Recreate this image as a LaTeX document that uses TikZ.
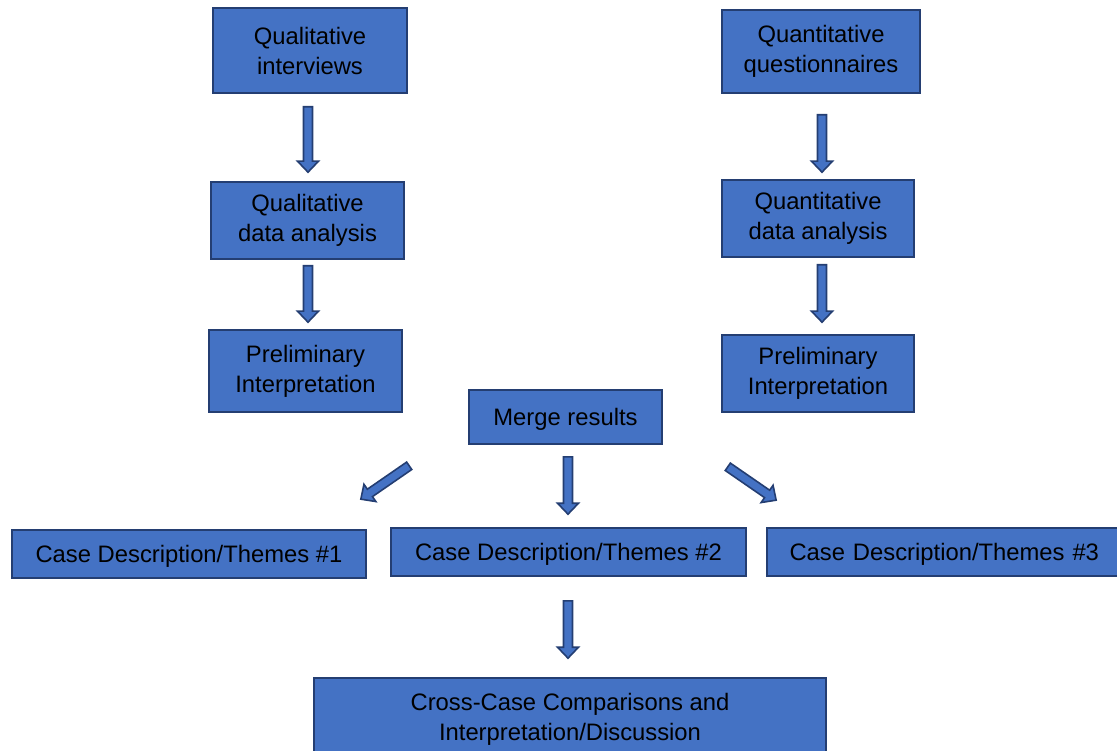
\documentclass[tikz,border=0pt]{standalone}
\usepackage{fontspec}
\setmainfont{Liberation Sans}
\usetikzlibrary{calc}
\definecolor{boxfill}{RGB}{68,114,196}
\definecolor{boxedge}{RGB}{36,62,114}

\tikzset{
  box/.style={draw=boxedge, fill=boxfill, line width=1.6pt, align=center,
    inner sep=0pt, text=black, font=\fontsize{23.8}{30}\selectfont},
  oneline/.style={text depth=0pt},
}

% block arrow from tail coordinate #1 to tip coordinate #2
\newcommand\blockarrow[2]{%
  \path let \p1=(#1), \p2=(#2),
    \n1={atan2(\y2-\y1,\x2-\x1)}, \n2={veclen(\x2-\x1,\y2-\y1)} in
    \pgfextra{\xdef\baang{\n1}\xdef\balen{\n2}};
  \begin{scope}[shift={(#1)}, rotate=\baang, x=1pt, y=1pt]
    \draw[draw=boxedge, fill=boxfill, line width=1.6pt, line join=miter]
      (0,-4.5) -- ({\balen-11},-4.5) -- ({\balen-11},-10.5) -- (\balen,0)
      -- ({\balen-11},10.5) -- ({\balen-11},4.5) -- (0,4.5) -- cycle;
  \end{scope}}

\begin{document}
\begin{tikzpicture}[x=1pt, y=-1pt]
  \useasboundingbox (0,0) rectangle (1117,751);
  \clip (0,0) rectangle (1117,751);

  % qualitative strand
  \node[box, minimum width=194pt, minimum height=85pt] (qi) at (310,50.5) {Qualitative\\interviews};
  \node[box, minimum width=193pt, minimum height=77pt] (qda) at (307.5,220.5) {Qualitative\\data analysis};
  \node[box, minimum width=193pt, minimum height=82pt] (pl) at (305.5,371) {Preliminary\\Interpretation};

  % quantitative strand
  \node[box, minimum width=198pt, minimum height=83pt] (qn) at (821,51.5) {Quantitative\\questionnaires};
  \node[box, minimum width=192pt, minimum height=77pt] (nda) at (818,218.5) {Quantitative\\data analysis};
  \node[box, minimum width=192pt, minimum height=77pt] (pr) at (818,373.5) {Preliminary\\Interpretation};

  % merging and cases
  \node[box, oneline, minimum width=193pt, minimum height=54pt] (mr) at (565.5,417) {Merge results};
  \node[box, oneline, minimum width=354pt, minimum height=48pt] (c1) at (189,554) {Case Description/Themes \#1};
  \node[box, oneline, minimum width=355pt, minimum height=48pt] (c2) at (568.5,552) {Case Description/Themes \#2};
  \node[box, oneline, minimum width=363pt, minimum height=48pt, text width=350pt, align=left] (c3) at (948.5,552) {\hspace*{16pt}Case Description/Themes \#3};
  \node[box, minimum width=512pt, minimum height=82pt] (cc) at (570,719) {Cross-Case Comparisons and\\Interpretation/Discussion};

  % arrow end points
  \coordinate (t1) at ($(qi.south)+(-2,13)$);   \coordinate (h1) at ($(qda.north)+(0.5,-9)$);
  \coordinate (t2) at ($(qda.south)+(0.5,6)$);  \coordinate (h2) at ($(pl.north)+(2.5,-7)$);
  \coordinate (t3) at ($(qn.south)+(1,21)$);    \coordinate (h3) at ($(nda.north)+(4,-7)$);
  \coordinate (t4) at ($(nda.south)+(4,7)$);    \coordinate (h4) at ($(pr.north)+(4,-12)$);
  \coordinate (t5) at ($(mr.south)+(2.5,12)$);  \coordinate (h5) at ($(c2.north)+(-0.5,-13)$);
  \coordinate (t6) at ($(mr.south west)+(-59,21)$); \coordinate (h6) at ($(c1.north east)+(-6,-30)$);
  \coordinate (t7) at ($(mr.south east)+(65,22)$);  \coordinate (h7) at ($(c3.north west)+(10,-27)$);
  \coordinate (t8) at ($(c2.south)+(-0.5,24)$); \coordinate (h8) at ($(cc.north)+(-2,-19)$);

  \blockarrow{t1}{h1}
  \blockarrow{t2}{h2}
  \blockarrow{t3}{h3}
  \blockarrow{t4}{h4}
  \blockarrow{t5}{h5}
  \blockarrow{t6}{h6}
  \blockarrow{t7}{h7}
  \blockarrow{t8}{h8}
\end{tikzpicture}
\end{document}
